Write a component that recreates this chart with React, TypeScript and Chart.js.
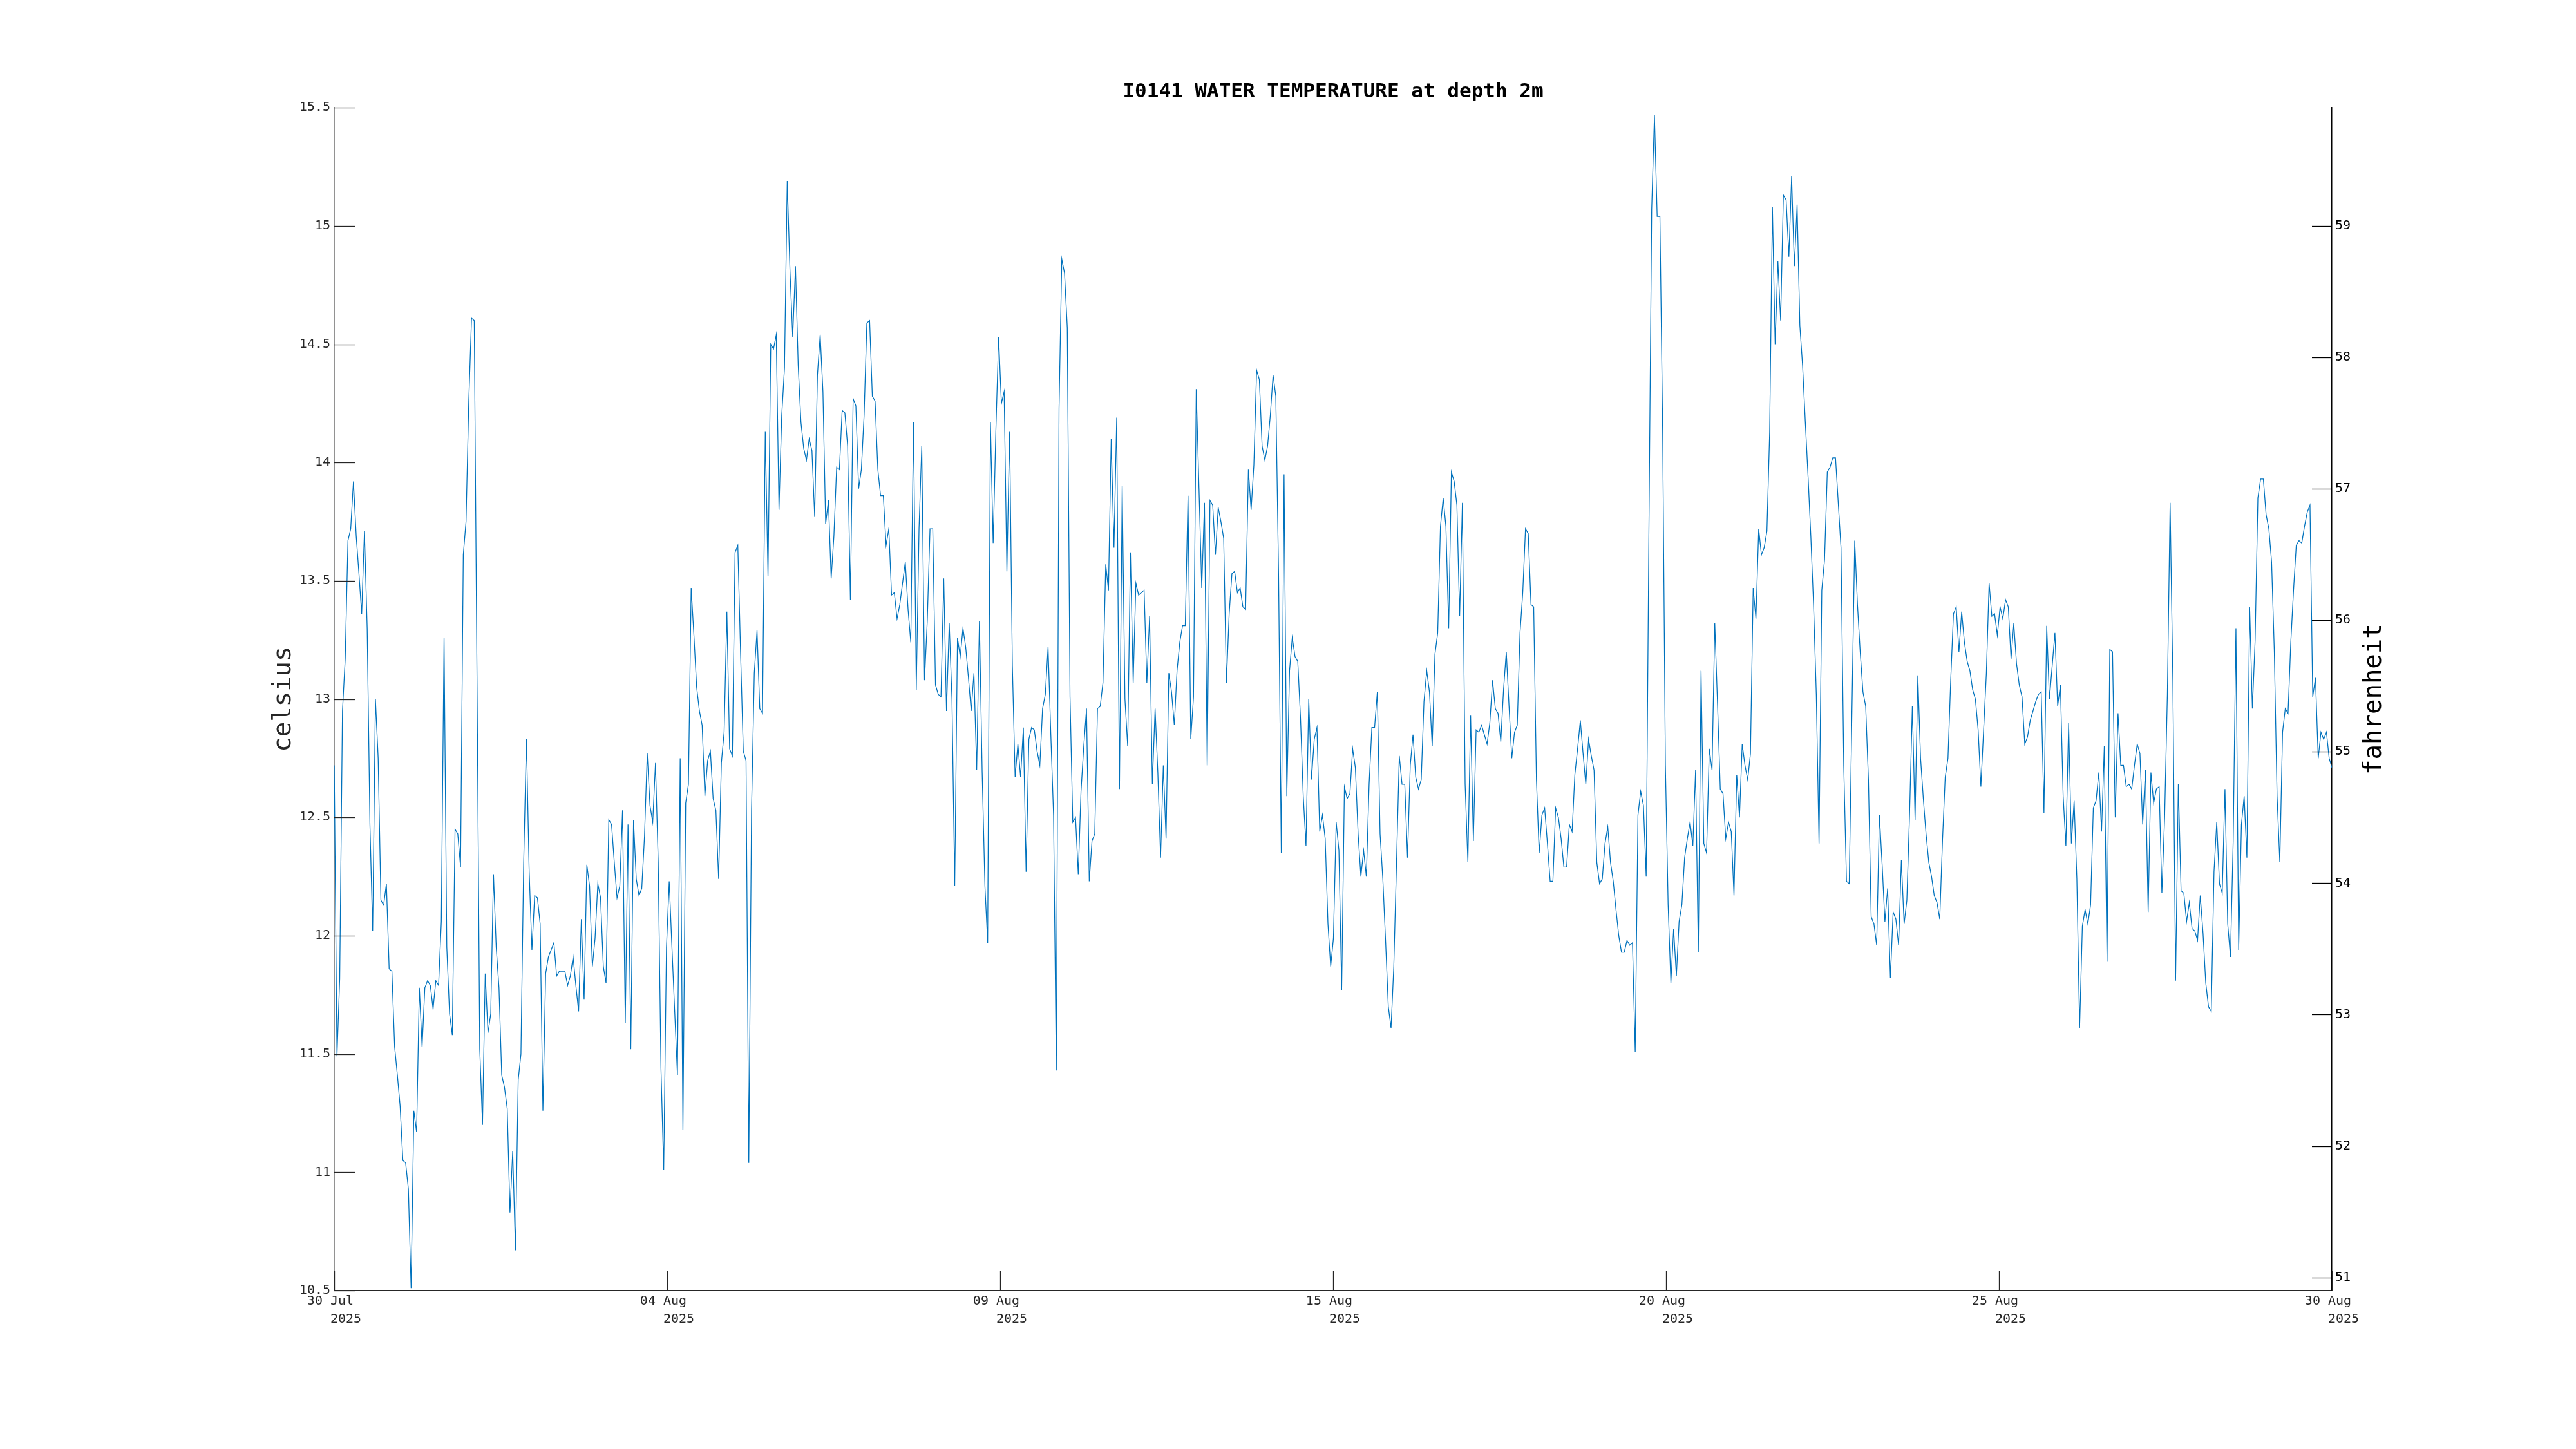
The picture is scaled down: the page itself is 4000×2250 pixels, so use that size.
import React, { useEffect, useRef } from "react";
import { Chart, registerables } from "chart.js";

Chart.register(...registerables);

const FONT = "'DejaVu Sans Mono', monospace";
const TITLE = "I0141 WATER TEMPERATURE at depth 2m";
const Y_LEFT_TITLE = "celsius";
const Y_RIGHT_TITLE = "fahrenheit";

// x axis: days since 30 Jul 2025 00:00 (axis spans 31 days)
const xMinDay = 0;
const xMaxDay = 31;
const xTickDays = [0, 5.1667, 10.3333, 15.5, 20.6667, 25.8333, 31];
const xTickLabels = [
  ["30 Jul ", "   2025"],
  ["04 Aug ", "   2025"],
  ["09 Aug ", "   2025"],
  ["15 Aug ", "   2025"],
  ["20 Aug ", "   2025"],
  ["25 Aug ", "   2025"],
  ["30 Aug ", "   2025"],
];

const celsiusTicks = [10.5, 11, 11.5, 12, 12.5, 13, 13.5, 14, 14.5, 15, 15.5];
const celsiusLabels = ["10.5", "11", "11.5", "12", "12.5", "13", "13.5", "14", "14.5", "15", "15.5"];
const fahrenheitTicks = [51, 52, 53, 54, 55, 56, 57, 58, 59];
const fahrenheitLabels = ["51", "52", "53", "54", "55", "56", "57", "58", "59"];
const celsiusMin = 10.5;
const celsiusMax = 15.5;

// water temperature (°C) in five consecutive stretches
const temps1 = [
  12.72, 11.49, 11.82, 12.95, 13.17, 13.67, 13.72, 13.92, 13.69, 13.53,
  13.36, 13.71, 13.30, 12.47, 12.02, 13.00, 12.75, 12.15, 12.13, 12.22,
  11.86, 11.85, 11.53, 11.41, 11.28, 11.05, 11.04, 10.93, 10.51, 11.26,
  11.17, 11.78, 11.53, 11.78, 11.81, 11.79, 11.69, 11.81, 11.79, 12.06,
  13.26, 11.95, 11.67, 11.58, 12.45, 12.43, 12.29, 13.61, 13.75, 14.26,
  14.61, 14.60, 13.08, 11.52, 11.20, 11.84, 11.59, 11.67, 12.26, 11.95,
  11.78, 11.41, 11.36, 11.27, 10.83, 11.09, 10.67, 11.39, 11.50, 12.31,
  12.83, 12.27, 11.94, 12.17, 12.16, 12.05, 11.26, 11.84, 11.91, 11.94,
  11.97, 11.83, 11.85, 11.85, 11.85, 11.79, 11.83, 11.91, 11.79, 11.68,
  12.07, 11.73, 12.30, 12.21, 11.87, 11.99, 12.22, 12.16, 11.87, 11.80,
  12.49, 12.47, 12.31, 12.16, 12.21, 12.53, 11.63, 12.47, 11.52, 12.49,
  12.24, 12.17, 12.20, 12.42, 12.77, 12.55, 12.48, 12.73, 12.31, 11.44,
  11.01, 11.95, 12.23, 11.95, 11.68, 11.41, 12.75, 11.18, 12.56, 12.64,
  13.47, 13.27, 13.05, 12.95, 12.89, 12.59, 12.74, 12.78, 12.58, 12.53,
  12.24, 12.73, 12.86, 13.37, 12.79, 12.76,
];
const temps2 = [
  13.62, 13.65, 13.20, 12.78, 12.74, 11.04, 12.53, 13.11, 13.29, 12.96,
  12.94, 14.13, 13.52, 14.50, 14.48, 14.54, 13.80, 14.20, 14.40, 15.19,
  14.81, 14.53, 14.83, 14.41, 14.17, 14.06, 14.01, 14.10, 14.05, 13.77,
  14.37, 14.54, 14.30, 13.74, 13.84, 13.51, 13.69, 13.98, 13.97, 14.22,
  14.21, 14.07, 13.42, 14.27, 14.24, 13.89, 13.97, 14.20, 14.59, 14.60,
  14.28, 14.26, 13.97, 13.86, 13.86, 13.65, 13.72, 13.44, 13.45, 13.34,
  13.40, 13.49, 13.58, 13.38, 13.24, 14.17, 13.04, 13.72, 14.07, 13.08,
  13.33, 13.72, 13.72, 13.06, 13.02, 13.01, 13.51, 12.95, 13.32, 13.00,
  12.21, 13.26, 13.18, 13.30, 13.22, 13.09, 12.95, 13.11, 12.70, 13.33,
  12.69, 12.21, 11.97, 14.17, 13.66, 14.14, 14.53, 14.25, 14.30, 13.54,
  14.13, 13.14, 12.67, 12.81, 12.67, 12.88, 12.27, 12.83, 12.88, 12.87,
  12.78, 12.72, 12.96, 13.02, 13.22, 12.85, 12.51, 11.43, 14.23, 14.86,
  14.80, 14.57, 13.01, 12.48, 12.50, 12.26, 12.61, 12.80, 12.96, 12.23,
  12.40, 12.43, 12.96, 12.97, 13.07, 13.57, 13.46, 14.10, 13.64, 14.19,
  12.62, 13.90, 13.00, 12.80, 13.62, 13.07,
];
const temps3 = [
  13.49, 13.44, 13.45, 13.46, 13.07, 13.35, 12.64, 12.96, 12.69, 12.33,
  12.72, 12.41, 13.11, 13.03, 12.89, 13.12, 13.24, 13.31, 13.31, 13.86,
  12.83, 13.01, 14.31, 13.89, 13.47, 13.83, 12.72, 13.84, 13.82, 13.61,
  13.81, 13.75, 13.68, 13.07, 13.36, 13.53, 13.54, 13.45, 13.47, 13.39,
  13.38, 13.97, 13.80, 13.99, 14.39, 14.35, 14.07, 14.01, 14.07, 14.20,
  14.37, 14.28, 13.53, 12.35, 13.95, 12.59, 13.12, 13.26, 13.18, 13.16,
  12.92, 12.59, 12.38, 13.00, 12.66, 12.83, 12.88, 12.44, 12.51, 12.41,
  12.05, 11.87, 11.99, 12.48, 12.36, 11.77, 12.63, 12.58, 12.60, 12.79,
  12.71, 12.43, 12.25, 12.36, 12.25, 12.64, 12.88, 12.88, 13.03, 12.43,
  12.24, 11.98, 11.70, 11.61, 11.87, 12.31, 12.76, 12.64, 12.64, 12.33,
  12.72, 12.85, 12.67, 12.62, 12.66, 12.99, 13.12, 13.03, 12.80, 13.19,
  13.28, 13.73, 13.85, 13.73, 13.30, 13.96, 13.92, 13.82, 13.35, 13.83,
  12.64, 12.31, 12.93, 12.40, 12.87, 12.86, 12.89, 12.85, 12.81, 12.90,
  13.08, 12.96, 12.94, 12.82, 13.04, 13.20, 12.97, 12.75, 12.86, 12.89,
  13.28, 13.45, 13.72, 13.70, 13.40,
];
const temps4 = [
  13.39, 12.66, 12.35, 12.51, 12.54, 12.39, 12.23, 12.23, 12.54, 12.50,
  12.41, 12.29, 12.29, 12.47, 12.44, 12.68, 12.79, 12.91, 12.77, 12.64,
  12.83, 12.76, 12.70, 12.31, 12.22, 12.24, 12.39, 12.46, 12.31, 12.23,
  12.11, 12.00, 11.93, 11.93, 11.98, 11.96, 11.97, 11.51, 12.51, 12.61,
  12.55, 12.25, 13.72, 15.07, 15.47, 15.04, 15.04, 14.14, 12.72, 12.13,
  11.80, 12.03, 11.83, 12.06, 12.13, 12.33, 12.41, 12.48, 12.38, 12.70,
  11.93, 13.12, 12.39, 12.35, 12.79, 12.70, 13.32, 12.98, 12.62, 12.60,
  12.41, 12.48, 12.44, 12.17, 12.68, 12.50, 12.81, 12.72, 12.66, 12.77,
  13.47, 13.34, 13.72, 13.61, 13.64, 13.71, 14.13, 15.08, 14.50, 14.85,
  14.60, 15.13, 15.11, 14.87, 15.21, 14.83, 15.09, 14.58, 14.41, 14.17,
  13.94, 13.69, 13.40, 13.02, 12.39, 13.46, 13.59, 13.96, 13.98, 14.02,
  14.02, 13.83, 13.64, 12.72, 12.23, 12.22, 12.96, 13.67, 13.40, 13.20,
  13.03, 12.97, 12.66, 12.08, 12.05, 11.96, 12.51, 12.30, 12.06, 12.20,
  11.82, 12.10, 12.07, 11.96, 12.32, 12.05, 12.15, 12.52, 12.97, 12.49,
  13.10, 12.75, 12.58, 12.43, 12.31, 12.25,
];
const temps5 = [
  12.17, 12.14, 12.07, 12.40, 12.67, 12.75, 13.08, 13.36, 13.39, 13.20,
  13.37, 13.24, 13.16, 13.12, 13.04, 13.00, 12.87, 12.63, 12.87, 13.11,
  13.49, 13.35, 13.36, 13.27, 13.39, 13.34, 13.42, 13.39, 13.17, 13.32,
  13.15, 13.06, 13.01, 12.81, 12.84, 12.91, 12.95, 12.99, 13.02, 13.03,
  12.52, 13.31, 13.00, 13.14, 13.28, 12.97, 13.06, 12.59, 12.38, 12.90,
  12.39, 12.57, 12.24, 11.61, 12.04, 12.11, 12.05, 12.13, 12.54, 12.57,
  12.69, 12.44, 12.80, 11.89, 13.21, 13.20, 12.50, 12.94, 12.72, 12.72,
  12.63, 12.64, 12.62, 12.72, 12.81, 12.77, 12.47, 12.70, 12.10, 12.69,
  12.56, 12.62, 12.63, 12.18, 12.50, 13.02, 13.83, 13.08, 11.81, 12.64,
  12.19, 12.18, 12.06, 12.14, 12.03, 12.02, 11.98, 12.17, 12.01, 11.80,
  11.70, 11.68, 12.27, 12.48, 12.22, 12.18, 12.62, 12.05, 11.91, 12.40,
  13.30, 11.94, 12.47, 12.59, 12.33, 13.39, 12.96, 13.25, 13.85, 13.93,
  13.93, 13.78, 13.72, 13.58, 13.20, 12.59, 12.31, 12.86, 12.96, 12.94,
  13.24, 13.46, 13.65, 13.67, 13.66, 13.73, 13.79, 13.82, 13.01, 13.09,
  12.75, 12.86, 12.83, 12.86, 12.75, 12.71,
];
// first and last sample time (days since 30 Jul) of each stretch; samples are evenly spaced within
const stretchStartDays = [0, 6.22, 12.44, 18.613, 24.829];
const stretchEndDays = [6.178, 12.398, 18.571, 24.787, 31.0];

const AXIS_COLOR = "#262626";
const RIGHT_COLOR = "#000000";
const LINE_COLOR = "#0072BD";

function buildPoints() {
  const stretches = [temps1, temps2, temps3, temps4, temps5];
  const pts: { x: number; y: number }[] = [];
  stretches.forEach((arr, s) => {
    const a = stretchStartDays[s];
    const b = stretchEndDays[s];
    const n = arr.length;
    arr.forEach((v, i) => {
      pts.push({ x: a + ((b - a) * i) / (n - 1), y: v });
    });
  });
  return pts;
}

const c2f = (c: number) => (c * 9) / 5 + 32;

const decorPlugin = {
  id: "matlabDecor",
  afterDraw(chart: any) {
    const { ctx, chartArea, scales } = chart;
    const { left, right, top, bottom } = chartArea;
    ctx.save();
    ctx.lineWidth = 1.3;
    // inward ticks on left axis
    ctx.strokeStyle = AXIS_COLOR;
    celsiusTicks.forEach((v) => {
      const y = Math.round(scales.y.getPixelForValue(v)) + 0.5;
      ctx.beginPath();
      ctx.moveTo(left, y);
      ctx.lineTo(left + 32, y);
      ctx.stroke();
    });
    // inward ticks on bottom axis
    xTickDays.forEach((d) => {
      const x = Math.round(scales.x.getPixelForValue(d)) + 0.5;
      ctx.beginPath();
      ctx.moveTo(x, bottom);
      ctx.lineTo(x, bottom - 31);
      ctx.stroke();
    });
    // inward ticks on right axis
    ctx.strokeStyle = RIGHT_COLOR;
    fahrenheitTicks.forEach((v) => {
      const y = Math.round(scales.yF.getPixelForValue(v)) + 0.5;
      ctx.beginPath();
      ctx.moveTo(right - 31, y);
      ctx.lineTo(right, y);
      ctx.stroke();
    });
    // axis titles (rotated, reading bottom to top)
    const midY = (top + bottom) / 2;
    ctx.font = `39px ${FONT}`;
    ctx.textAlign = "center";
    ctx.textBaseline = "alphabetic";
    ctx.fillStyle = AXIS_COLOR;
    ctx.save();
    ctx.translate(left - 68, midY);
    ctx.rotate(-Math.PI / 2);
    ctx.fillText(Y_LEFT_TITLE, 0, 0);
    ctx.restore();
    ctx.fillStyle = RIGHT_COLOR;
    ctx.save();
    ctx.translate(right + 76, midY);
    ctx.rotate(-Math.PI / 2);
    ctx.fillText(Y_RIGHT_TITLE, 0, 0);
    ctx.restore();
    ctx.restore();
  },
};

export default function App() {
  const canvasRef = useRef<HTMLCanvasElement | null>(null);

  useEffect(() => {
    const canvas = canvasRef.current;
    if (!canvas) return;
    const chart = new Chart(canvas, {
      type: "line",
      data: {
        datasets: [
          {
            data: buildPoints(),
            borderColor: LINE_COLOR,
            borderWidth: 1.3,
            pointRadius: 0,
            pointHoverRadius: 0,
            fill: false,
            tension: 0,
          },
        ],
      },
      options: {
        animation: false,
        responsive: false,
        devicePixelRatio: 1,
        events: [],
        layout: { padding: 0 },
        plugins: {
          legend: { display: false },
          tooltip: { enabled: false },
          title: {
            display: true,
            text: TITLE,
            fullSize: false,
            color: "#000000",
            font: { family: FONT, size: 31, weight: "bold", lineHeight: 1.2 },
            padding: { top: 124, bottom: 6 },
          },
        },
        scales: {
          x: {
            type: "linear",
            position: "bottom",
            min: xMinDay,
            max: xMaxDay,
            grid: { display: false, drawTicks: false },
            border: { display: true, color: AXIS_COLOR, width: 1.5 },
            afterBuildTicks: (s: any) => {
              s.ticks = xTickDays.map((v) => ({ value: v }));
            },
            afterFit: (s: any) => {
              s.height = 246;
            },
            ticks: {
              autoSkip: false,
              maxRotation: 0,
              minRotation: 0,
              padding: 3,
              color: AXIS_COLOR,
              font: { family: FONT, size: 20, lineHeight: 1.4 },
              callback: (_v: any, i: number) => xTickLabels[i],
            },
          },
          y: {
            type: "linear",
            position: "left",
            min: celsiusMin,
            max: celsiusMax,
            grid: { display: false, drawTicks: false },
            border: { display: true, color: AXIS_COLOR, width: 1.5 },
            afterBuildTicks: (s: any) => {
              s.ticks = celsiusTicks.map((v) => ({ value: v }));
            },
            afterFit: (s: any) => {
              s.width = 519;
            },
            ticks: {
              padding: 6,
              color: AXIS_COLOR,
              font: { family: FONT, size: 20 },
              callback: (_v: any, i: number) => celsiusLabels[i],
            },
          },
          yF: {
            type: "linear",
            position: "right",
            min: c2f(celsiusMin),
            max: c2f(celsiusMax),
            grid: { display: false, drawTicks: false },
            border: { display: true, color: RIGHT_COLOR, width: 1.5 },
            afterBuildTicks: (s: any) => {
              s.ticks = fahrenheitTicks.map((v) => ({ value: v }));
            },
            afterFit: (s: any) => {
              s.width = 379;
            },
            ticks: {
              padding: 5,
              color: RIGHT_COLOR,
              font: { family: FONT, size: 20 },
              callback: (_v: any, i: number) => fahrenheitLabels[i],
            },
          },
        },
      } as any,
      plugins: [decorPlugin],
    });
    return () => chart.destroy();
  }, []);

  return (
    <div
      style={{
        position: "fixed",
        left: 0,
        top: 0,
        width: 4000,
        height: 2250,
        background: "#ffffff",
      }}
    >
      <canvas ref={canvasRef} width={4000} height={2250} style={{ width: 4000, height: 2250, display: "block" }} />
    </div>
  );
}
